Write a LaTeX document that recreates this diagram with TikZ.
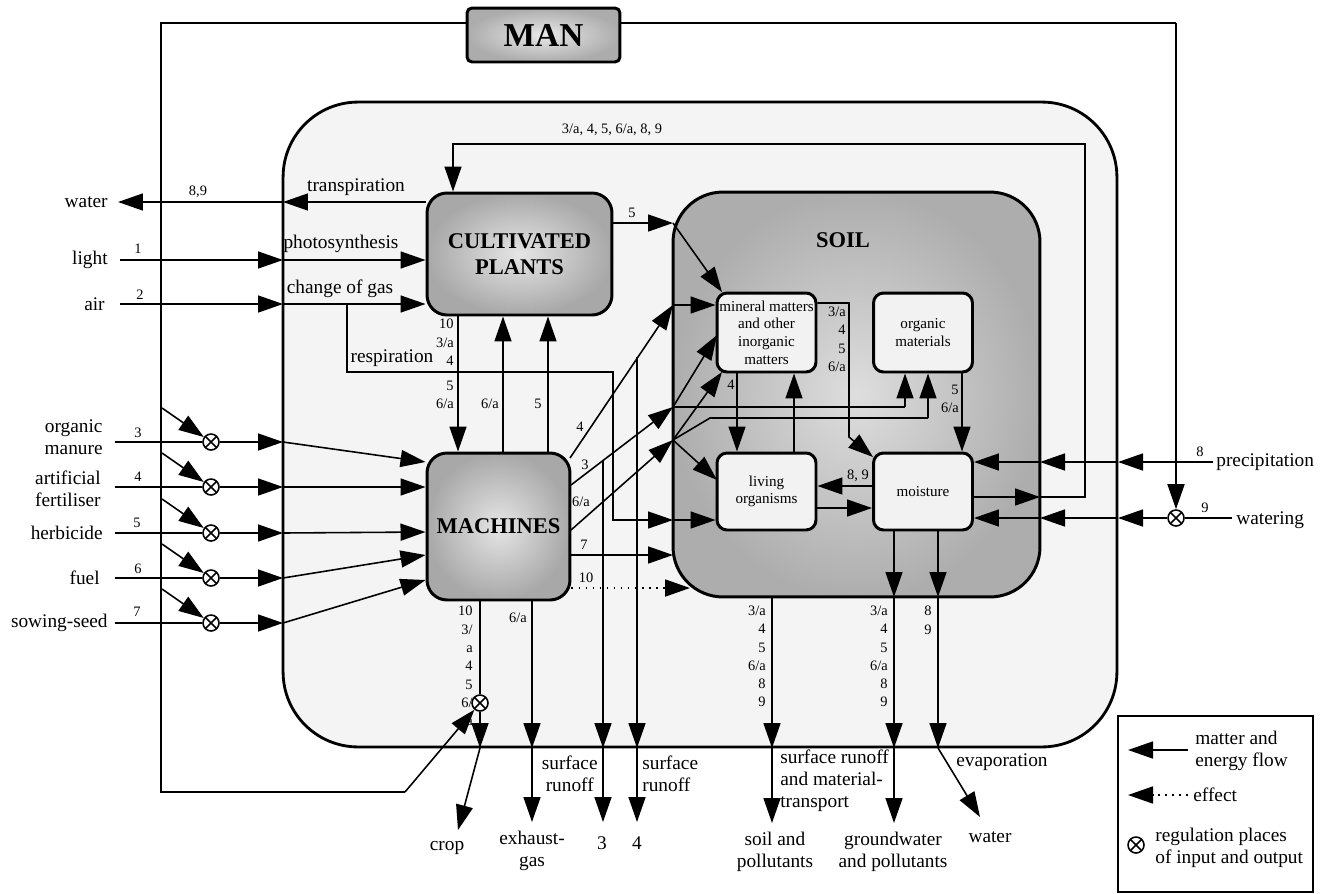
\documentclass[tikz,border=0pt]{standalone}
\usepackage{fontspec}
\setmainfont{Liberation Serif}
\usetikzlibrary{arrows.meta}
\begin{document}
\begin{tikzpicture}[x=0.02cm,y=-0.02cm,
  >={Triangle[length=5mm,width=3.4mm]},
  flow/.style={line width=0.9pt,->},
  ln/.style={line width=0.9pt},
  eff/.style={line width=1pt,dash pattern=on 1pt off 3pt,->},
  lab/.style={font=\fontsize{11}{12.4}\selectfont,align=center,inner sep=0pt},
  num/.style={font=\fontsize{8.2}{9}\selectfont,inner sep=0pt},
  stack/.style={font=\fontsize{8.2}{10.3}\selectfont,inner sep=0pt,align=right},
  sysbox/.style={draw,line width=1.6pt,rounded corners=1.5cm,fill=gray!9},
  soilbox/.style={draw,line width=1.7pt,rounded corners=1cm,inner color=gray!26,outer color=gray!64},
  bigbox/.style={draw,line width=1.7pt,rounded corners=0.4cm,inner color=gray!20,outer color=gray!68,
    font=\fontsize{12.8}{15}\selectfont\bfseries,align=center},
  inbox/.style={draw,line width=1.7pt,rounded corners=0.2cm,fill=gray!10,
    font=\fontsize{8.6}{10}\selectfont,align=center,inner sep=0.5pt,minimum width=1.98cm},
  reg/.style={circle,draw,fill=white,line width=0.9pt,minimum size=0.32cm,inner sep=0pt,
    path picture={\draw[line width=0.9pt] (path picture bounding box.north west)--(path picture bounding box.south east)
      (path picture bounding box.north east)--(path picture bounding box.south west);}}
]
\useasboundingbox (0,0) rectangle (1329,893);

% ---------- background boxes ----------
\node[sysbox,minimum width=16.68cm,minimum height=12.9cm] (sys) at (700,424.5) {};
\node[soilbox,minimum width=7.34cm,minimum height=8.1cm] (soil) at (856.5,394.5) {};
\node[font=\fontsize{12.8}{15}\selectfont\bfseries,inner sep=0pt] (soilt) at (843,240) {SOIL};

% ---------- MAN ----------
\node[draw,line width=1.7pt,rounded corners=0.1cm,inner color=gray!18,outer color=gray!65,
  minimum width=3.06cm,minimum height=1.08cm,font=\fontsize{19}{21}\selectfont\bfseries] (man) at (543.5,35) {MAN};

% ---------- regulators ----------
\node[reg] (r3) at (211,442) {};
\node[reg] (r4) at (211,487) {};
\node[reg] (r5) at (211,533) {};
\node[reg] (r6) at (211,578) {};
\node[reg] (r7) at (211,623) {};
\node[reg] (rc) at (480,703) {};
\node[reg] (rw) at (1176,518) {};

% ---------- MAN lines ----------
\coordinate (ml) at (161,23);
\coordinate (mb) at (161,792);
\coordinate (mc) at (405,792);
\draw[ln] (man.west |- ml) -- (ml) -- (mb) -- (mc);
\draw[flow] (mc) -- (rc);
\coordinate (mr) at (1176,23);
\draw[ln] (man.east |- mr) -- (mr);
\draw[flow] (mr) -- (rw);
\foreach \y/\r in {442/r3,487/r4,533/r5,578/r6,623/r7}{
  \draw[flow] (162,\y-34) -- (\r);
}

% ---------- main boxes ----------
\node[bigbox,minimum width=3.7cm,minimum height=2.44cm] (cp) at (519.5,254) {CULTIVATED\\PLANTS};
\node[bigbox,minimum width=2.86cm,minimum height=2.94cm] (mach) at (498.5,526.5) {MACHINES};

\node[inbox,minimum height=1.58cm] (mineral) at (766.5,332.5) {mineral matters\\and other\\inorganic\\matters};
\node[inbox,minimum height=1.58cm] (organic) at (923,332.5) {organic\\materials};
\node[inbox,minimum height=1.54cm] (living) at (766.5,491.5) {living\\organisms};
\node[inbox,minimum height=1.54cm] (moist) at (923,491.5) {moisture};

% ---------- left inputs ----------
\node[lab,anchor=east] (twater) at (108,202) {water};
\node[lab,anchor=east] (tlight) at (108,260) {light};
\node[lab,anchor=east] (tair) at (105,304) {air};
\coordinate (ew) at (283,202);
\coordinate (el) at (283,260);
\coordinate (ea) at (283,304);
\draw[flow] (cp.west |- ew) -- (ew);
\draw[flow] (ew) -- (118,202);
\draw[flow] (120,260) -- (el);
\draw[flow] (el) -- (cp.west |- el);
\draw[flow] (120,304) -- (ea);
\draw[flow] (ea) -- (cp.west |- ea);
\node[num] (n89) at (198,192) {8,9};
\node[num] (n1) at (138,249) {1};
\node[num] (n2) at (140,295) {2};
\node[lab] (ttrans) at (356,187) {transpiration};
\node[lab] (tphoto) at (341,244) {photosynthesis};
\node[lab] (tgas) at (340,289) {change of gas};

% respiration
\coordinate (rs1) at (347,304);
\coordinate (rs2) at (613,372);
\coordinate (rs3) at (673,520);
\draw[flow] (rs1) |- (rs2) |- (rs3);
\draw[flow] (rs3) -- (living.west |- rs3);
\node[lab] (tresp) at (392,358) {respiration};

% inputs to machines
\node[lab,anchor=east] (tom) at (103,437) {organic\\manure};
\node[lab,anchor=east] (taf) at (101,489) {artificial\\fertiliser};
\node[lab,anchor=east] (the) at (103,533) {herbicide};
\node[lab,anchor=east] (tfu) at (100,578) {fuel};
\node[lab,anchor=east] (tss) at (108,623) {sowing-seed};
\node[num] (n3) at (138,433) {3};
\node[num] (n4) at (138,477) {4};
\node[num] (n5) at (137,523) {5};
\node[num] (n6) at (138,569) {6};
\node[num] (n7) at (137,612) {7};
\foreach \y/\r/\t in {442/r3/462,487/r4/487,533/r5/532,578/r6/555,623/r7/580}{
  \draw[ln] (115,\y) -- (\r);
  \draw[flow] (\r) -- (283,\y);
  \draw[flow] (283,\y) -- (mach.west |- 0,\t);
}

% ---------- CP <-> machines ----------
\draw[flow] (cp.south -| 458,0) -- (mach.north -| 458,0);
\draw[flow] (mach.north -| 503,0) -- (cp.south -| 503,0);
\draw[flow] (mach.north -| 548,0) -- (cp.south -| 548,0);
\node[stack,anchor=north east] (s1) at (454,319) {10\\3/a\\4};
\node[stack,anchor=north east] (s2) at (454,381) {5\\6/a};
\node[num,anchor=east] (s3) at (499,404) {6/a};
\node[num] (s4) at (538,404) {5};

% ---------- CP 5 to soil ----------
\coordinate (p5) at (673,223);
\draw[flow] (cp.east |- p5) -- (p5);
\draw[flow] (p5) -- (722,292);
\node[num] (n5b) at (632,213) {5};

% ---------- machines to soil ----------
\coordinate (p4) at (673,305);
\coordinate (p3) at (673,407);
\coordinate (p6) at (673,440);
\draw[flow] (570,458) -- (p4);
\draw[flow] (p4) -- (mineral.west |- p4);
\draw[flow] (571,485) -- (p3);
\draw[ln] (p3) -- (905,407);
\draw[flow] (905,407) -- (organic.south -| 905,0);
\draw[flow] (p3) -- (717,335);
\draw[flow] (571,530) -- (p6);
\draw[flow] (p6) -- (722,372);
\draw[ln] (p6) -- (710,418) -- (928,418);
\draw[flow] (928,418) -- (organic.south -| 928,0);
\draw[flow] (p6) -- (717,480);
\coordinate (p7) at (673,555);
\draw[flow] (mach.east |- p7) -- (p7);
\coordinate (p10) at (690,588);
\draw[eff] (mach.east |- p10) -- (p10);
\node[num] (m4) at (580,427) {4};
\node[num] (m3) at (585,465) {3};
\node[num] (m6) at (581,502) {6/a};
\node[num] (m7) at (584,545) {7};
\node[num] (m10) at (586,578) {10};

% surface runoff verticals
\coordinate (sa) at (603,748);
\coordinate (sb) at (637,748);
\draw[flow] (603,460) -- (sa);
\draw[flow] (sa) -- (603,822);
\draw[flow] (637,357) -- (sb);
\draw[flow] (sb) -- (637,822);
\node[lab,anchor=east] (tsr1) at (598,774) {surface\\runoff};
\node[lab,align=left,anchor=west] (tsr2) at (642,774) {surface\\runoff};
\node[lab] (t3) at (602,843) {3};
\node[lab] (t4) at (637,843) {4};

% machines bottom outputs
\coordinate (cb) at (480,748);
\draw[ln] (mach.south -| rc) -- (rc);
\draw[flow] (rc) -- (cb);
\draw[flow] (cb) -- (458,830);
\coordinate (eb) at (532,748);
\draw[flow] (mach.south -| eb) -- (eb);
\draw[flow] (eb) -- (532,822);
\node[stack,anchor=north east,font=\fontsize{8.2}{10.4}\selectfont] (s5) at (473,606) {10\\3/\\a\\4\\5\\6/\\a};
\node[num] (s6) at (518,618) {6/a};
\node[lab] (tcrop) at (447,848) {crop};
\node[lab] (texh) at (532,851) {exhaust-\\gas};

% ---------- inside soil ----------
\draw[flow] (mineral.south -| 737,0) -- (living.north -| 737,0);
\draw[flow] (living.north -| 794,0) -- (mineral.south -| 794,0);
\node[num] (k4) at (731,385) {4};
\draw[flow] (mineral.east |- 0,303) -| (849,437) -- (873,457);
\node[stack,anchor=north east] (s7) at (846,307) {3/a\\4\\5\\6/a};
\draw[flow] (organic.south -| 962,0) -- (moist.north -| 962,0);
\node[stack,anchor=north east] (s8) at (959,385) {5\\6/a};
\draw[flow] (moist.west |- 0,486) -- (living.east |- 0,486);
\node[num] (k89) at (858,476) {8, 9};
\draw[flow] (living.east |- 0,508) -- (moist.west |- 0,508);

% precipitation and watering
\node[lab,anchor=west] (tprec) at (1216,462) {precipitation};
\node[lab,anchor=west] (twat) at (1236,520) {watering};
\node[num] (n8) at (1200,452) {8};
\node[num] (n9) at (1205,508) {9};
\coordinate (po) at (1118,462);
\coordinate (ps) at (1040,462);
\draw[flow] (1213,462) -- (po);
\draw[flow] (po) -- (ps);
\draw[flow] (ps) -- (moist.east |- ps);
\coordinate (wo) at (1118,518);
\coordinate (ws) at (1040,518);
\draw[ln] (1232,518) -- (rw);
\draw[flow] (rw) -- (wo);
\draw[flow] (wo) -- (ws);
\draw[flow] (ws) -- (moist.east |- ws);

% feedback to cultivated plants
\coordinate (fb) at (1040,497);
\draw[flow] (moist.east |- fb) -- (fb);
\draw[flow] (fb) -- (1085,497) -- (1085,144) -- (453,144) -- (cp.north -| 453,0);
\node[num] (nfb) at (612,130) {3/a, 4, 5, 6/a, 8, 9};

% soil bottom outputs
\coordinate (o1) at (772,748);
\draw[flow] (soil.south -| o1) -- (o1);
\draw[flow] (o1) -- (772,823);
\coordinate (o2s) at (894,597);
\coordinate (o2) at (894,748);
\draw[flow] (moist.south -| o2) -- (o2s);
\draw[flow] (o2s) -- (o2);
\draw[flow] (o2) -- (894,823);
\coordinate (o3s) at (938,597);
\coordinate (o3) at (938,748);
\draw[flow] (moist.south -| o3) -- (o3s);
\draw[flow] (o3s) -- (o3);
\draw[flow] (o3) -- (980,817);
\node[stack,anchor=north east] (s9) at (766,606) {3/a\\4\\5\\6/a\\8\\9};
\node[stack,anchor=north east] (s10) at (888,606) {3/a\\4\\5\\6/a\\8\\9};
\node[stack,anchor=north east] (s11) at (932,606) {8\\9};
\node[lab,align=left,anchor=north west] (tsm) at (780,750) {surface runoff\\and material-\\transport};
\node[lab] (tsoil) at (775,852) {soil and\\pollutants};
\node[lab] (tgw) at (893,852) {groundwater\\and pollutants};
\node[lab] (tevap) at (1002,762) {evaporation};
\node[lab] (twat2) at (990,837) {water};

% ---------- legend ----------
\draw[line width=0.9pt] (1118,716) rectangle (1313,892);
\draw[flow] (1188,750) -- (1128,750);
\draw[eff] (1188,795) -- (1128,795);
\node[reg] (rl) at (1136,845) {};
\node[lab,align=left,anchor=west] (lg1) at (1195,751) {matter and\\energy flow};
\node[lab,anchor=west] (lg2) at (1193,795) {effect};
\node[lab,align=left,anchor=west] (lg3) at (1155,848) {regulation places\\of input and output};
\end{tikzpicture}
\end{document}
